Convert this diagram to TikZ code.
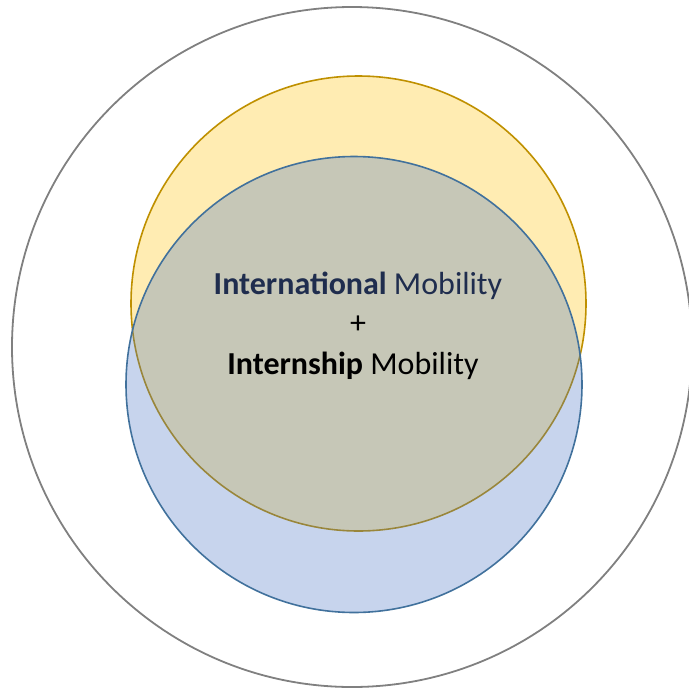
\documentclass[tikz,border=0pt]{standalone}
\usepackage{fontspec}
\setmainfont{Carlito}
\definecolor{ringGrey}{HTML}{808080}
\definecolor{goldLine}{HTML}{BF9000}
\definecolor{goldFill}{HTML}{FFC000}
\definecolor{blueLine}{HTML}{41719C}
\definecolor{blueFill}{HTML}{4472C4}
\definecolor{navyText}{HTML}{1F2D4E}
\tikzset{
  ring/.style = {circle, draw=ringGrey, line width=1.8pt, minimum size=680pt, inner sep=0pt},
  goldSet/.style = {circle, draw=goldLine, line width=1.6pt, fill=goldFill, fill opacity=0.3, draw opacity=1, minimum size=455pt, inner sep=0pt},
  blueSet/.style = {circle, draw=blueLine, line width=1.6pt, fill=blueFill, fill opacity=0.3, draw opacity=1, minimum size=456pt, inner sep=0pt},
  label/.style = {font=\fontsize{32}{38}\selectfont, inner sep=0pt}
}
\begin{document}
\begin{tikzpicture}[x=1pt, y=-1pt]
    \useasboundingbox (0,0) rectangle (689,689);
    \clip (0,0) rectangle (689,689);
    \node[ring] (outer) at (352,347) {};
    \node[goldSet] (intlSet) at (358.5,303.5) {};
    \node[blueSet] (internSet) at (354,384.5) {};

    \node[label, text=navyText] (intl) at (358,286) {\textbf{International} Mobility};
    \node[label] (plus) at (358,325) {+};
    \node[label] (intern) at (353,366) {\textbf{Internship} Mobility};
\end{tikzpicture}
\end{document}
